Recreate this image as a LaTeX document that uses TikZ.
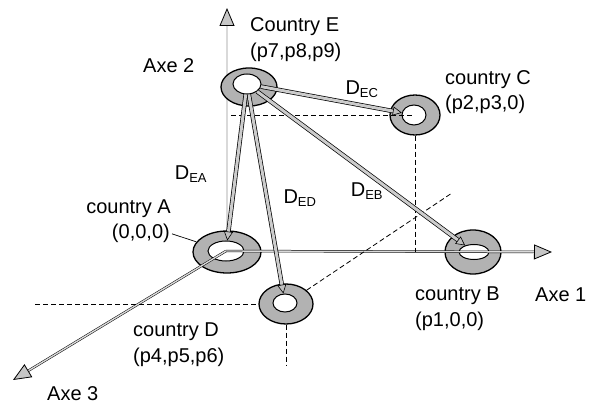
\documentclass[tikz,border=0pt]{standalone}
\usepackage{fontspec}
\setmainfont{Liberation Sans}
\usetikzlibrary{arrows.meta,shapes.geometric}

\tikzset{
  ringout/.style={ellipse, draw=black, line width=1.3pt, fill=gray!60, inner sep=0pt},
  ringhole/.style={ellipse, draw=black, line width=1pt, fill=white, inner sep=0pt},
  axisline/.style={draw=black, line width=0.5pt, double=gray!30, double distance=1.4pt,
    -{Triangle[length=18pt,width=15pt,fill=gray!45,line width=0.8pt]}},
  link/.style={draw=black, line width=0.7pt, double=gray!40, double distance=3pt,
    -{Triangle[length=9pt,width=9pt,fill=gray!50,line width=0.6pt]}},
  proj/.style={dash pattern=on 5pt off 3pt, line width=0.8pt},
  lbl/.style={inner sep=0pt, font=\fontsize{20}{24}\selectfont},
  dlbl/.style={inner sep=0pt, font=\fontsize{20}{24}\selectfont},
}
\newcommand{\dist}[1]{D\textsubscript{\fontsize{13}{14}\selectfont #1}}

\begin{document}
\begin{tikzpicture}[x=1pt,y=-1pt]
\useasboundingbox (0,0) rectangle (589,406);

% free ends of axes and projection lines
\coordinate (ax1) at (552,252);
\coordinate (ax2) at (227,8);
\coordinate (ax3) at (13,380);
\coordinate (pC1) at (231,115);
\coordinate (pC2) at (415,252);
\coordinate (pD1) at (35,304);
\coordinate (pD2) at (286,365);
\coordinate (pD3) at (452,193);

% vertical axis, hidden behind the ring of country E
\coordinate (O) at (227,252);
\draw[axisline] (O) -- (ax2);

% countries
\node[ringout, minimum width=56pt, minimum height=38pt] (Eo) at (249,87) {};
\node[ringhole, minimum width=28pt, minimum height=20pt] (Eh) at (247,84) {};
\node[ringout, minimum width=50pt, minimum height=40pt] (Co) at (415,115) {};
\node[ringhole, minimum width=24pt, minimum height=20pt] (Ch) at (414,115) {};
\node[ringout, minimum width=68pt, minimum height=42pt] (Ao) at (227,252) {};
\node[ringhole, minimum width=36pt, minimum height=20pt] (Ah) at (226,251) {};
\node[ringout, minimum width=54pt, minimum height=40pt] (Do) at (286,304) {};
\node[ringhole, minimum width=24pt, minimum height=18pt] (Dh) at (285,303) {};
\node[ringout, minimum width=56pt, minimum height=44pt] (Bo) at (473,252) {};
\node[ringhole, minimum width=30pt, minimum height=15pt] (Bh) at (474,252) {};

% horizontal and depth axes
\draw[axisline] (Ah.center) -- (ax1);
\draw[axisline] (Ah.center) -- (ax3);

% projection lines
\draw[proj] (pC1) -- (Ch.center);
\draw[proj] (Co.south) -- (pC2);
\draw[proj] (pD1) -- (Do.west);
\draw[proj] (Do.south) -- (pD2);
\draw[proj] (Do) -- (pD3);

% distances from country E
\draw[link] (Eh) -- (Ch);
\draw[link] (Eh) -- (Bh);
\draw[link] (Eh) -- (Dh);
\draw[link] (Eh) -- (Ah);

% labels
\node[lbl, anchor=base west] (tE1) at (250,32) {Country E};
\node[lbl, anchor=base west] (tE2) at (250,58) {(p7,p8,p9)};
\node[lbl, anchor=base west] (tAx2) at (143,73) {Axe 2};
\node[lbl, anchor=base west] (tC1) at (445,85) {country C};
\node[lbl, anchor=base west] (tC2) at (445,110) {(p2,p3,0)};
\node[lbl, anchor=base east] (tA1) at (171,214) {country A};
\node[lbl, anchor=base east] (tA2) at (170,239) {(0,0,0)};
\node[lbl, anchor=base west] (tB1) at (415,300) {country B};
\node[lbl, anchor=base west] (tB2) at (415,326) {(p1,0,0)};
\node[lbl, anchor=base west] (tAx1) at (535,301) {Axe 1};
\node[lbl, anchor=base west] (tD1) at (133,336) {country D};
\node[lbl, anchor=base west] (tD2) at (133,362) {(p4,p5,p6)};
\node[lbl, anchor=base west] (tAx3) at (47,400) {Axe 3};
\node[dlbl] (dEC) at (362,89) {\dist{EC}};
\node[dlbl] (dEA) at (191,174) {\dist{EA}};
\node[dlbl] (dED) at (300,198) {\dist{ED}};
\node[dlbl] (dEB) at (367,191) {\dist{EB}};

% leader from the origin label to country A
\draw[line width=0.7pt] ([xshift=2pt]tA2.east) -- (Ao);
\end{tikzpicture}
\end{document}
